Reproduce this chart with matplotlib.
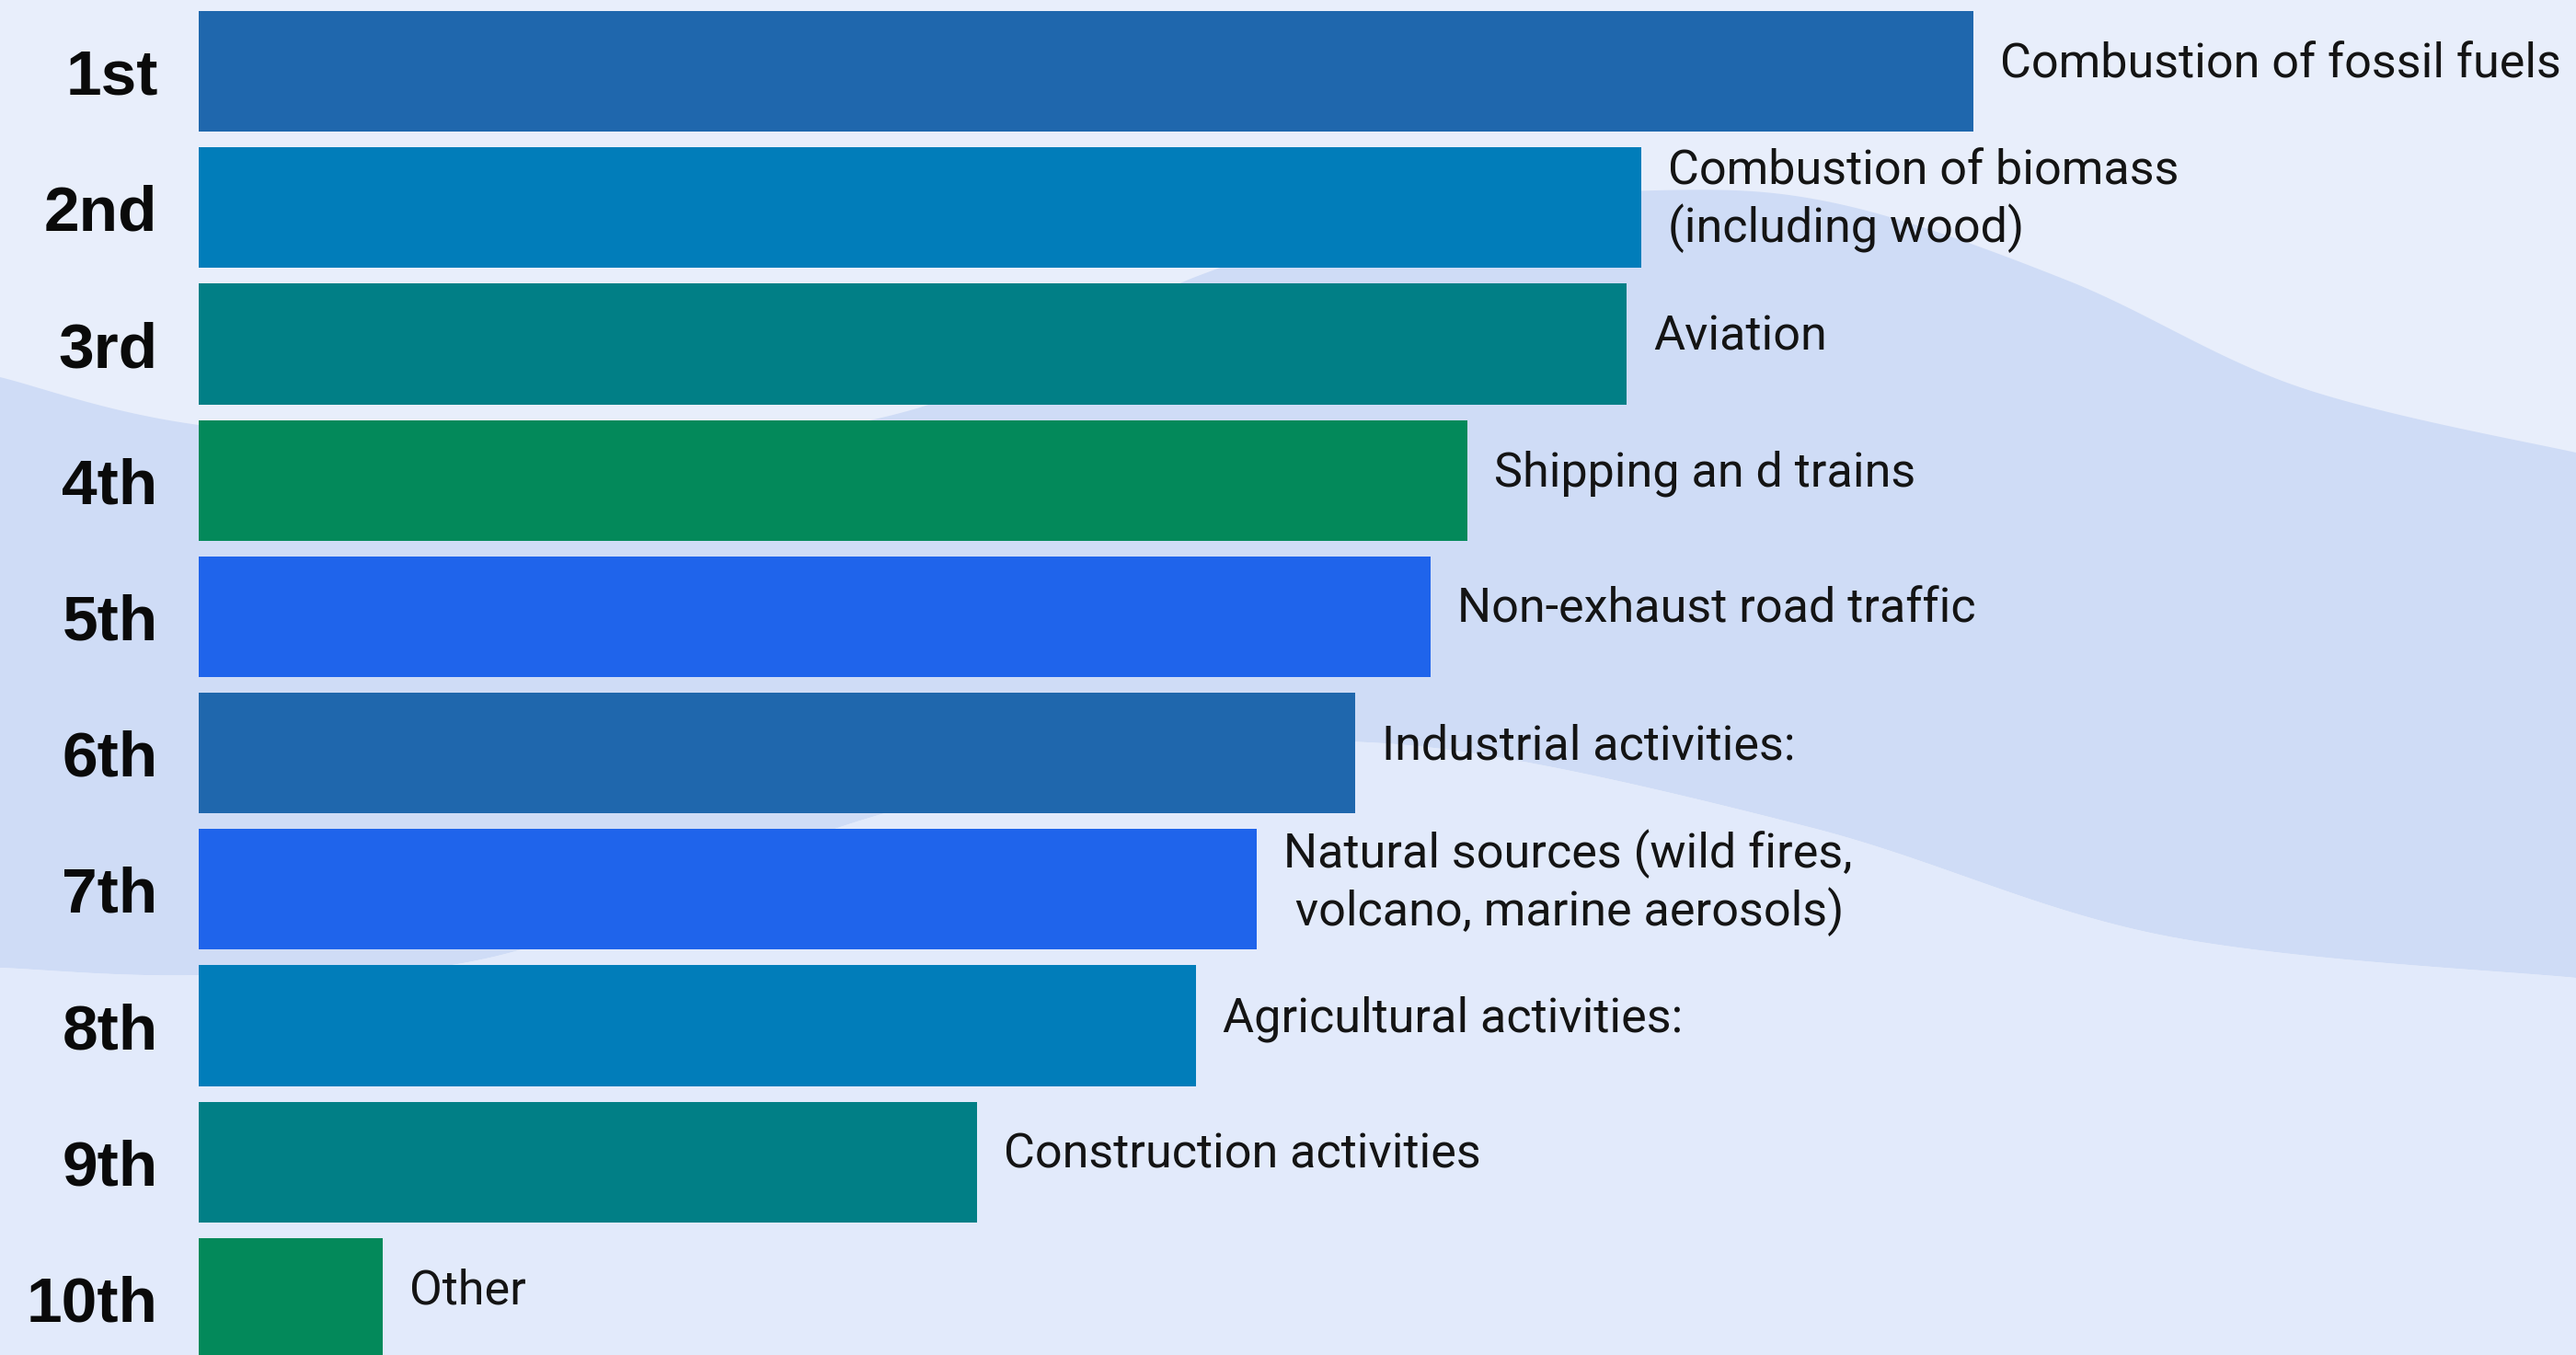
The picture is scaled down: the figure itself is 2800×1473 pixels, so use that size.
import numpy as np
import matplotlib.pyplot as plt
from matplotlib.patches import Polygon

# ranking of PM sources (bar lengths, arbitrary units)
ranks = ["1st", "2nd", "3rd", "4th", "5th", "6th", "7th", "8th", "9th", "10th"]
sources = [
    "Combustion of fossil fuels",
    "Combustion of biomass\n(including wood)",
    "Aviation",
    "Shipping an d trains",
    "Non-exhaust road traffic",
    "Industrial activities:",
    "Natural sources (wild fires,\n volcano, marine aerosols)",
    "Agricultural activities:",
    "Construction activities",
    "Other",
]
scores = [1929, 1568, 1552, 1379, 1339, 1257, 1150, 1084, 846, 200]

bar_colors = ["#1F67AD", "#017DBA", "#017F86", "#03895A", "#1F64EB",
              "#1F67AD", "#1F64EB", "#017DBA", "#017F86", "#03895A"]

W, H = 2800, 1473


def smooth(pts, n=40):
    # catmull-rom through the given points, just for the background wave
    pts = np.asarray(pts, float)
    p = np.vstack([pts[0], pts, pts[-1]])
    t = np.linspace(0, 1, n, endpoint=False)[:, None]
    out = []
    for i in range(1, len(p) - 2):
        p0, p1, p2, p3 = p[i - 1], p[i], p[i + 1], p[i + 2]
        out.append(0.5 * (2 * p1 + (p2 - p0) * t
                          + (2 * p0 - 5 * p1 + 4 * p2 - p3) * t ** 2
                          + (3 * p1 - p0 - 3 * p2 + p3) * t ** 3))
    out.append(pts[-1:])
    return np.vstack(out)


fig = plt.figure(figsize=(W / 100, H / 100), dpi=100)
fig.patch.set_facecolor("#E8EEFB")

# decorative background wave
bg = fig.add_axes([0, 0, 1, 1])
bg.set_xlim(0, W)
bg.set_ylim(H, 0)
bg.axis("off")
top_edge = smooth([(-60, 395), (0, 410), (216, 462), (600, 492), (986, 447),
                   (1302, 300), (1550, 232), (1800, 207), (2000, 222),
                   (2250, 306), (2500, 421), (2800, 492), (2860, 500)])
bot_edge = smooth([(-60, 1050), (0, 1052), (216, 1060), (537, 1040), (935, 892),
                   (1250, 822), (1550, 812), (1970, 900), (2352, 1017),
                   (2800, 1063), (2860, 1066)])
bg.add_patch(Polygon(np.vstack([top_edge, bot_edge[::-1]]),
                     closed=True, facecolor="#CFDCF6", edgecolor="none"))
bg.add_patch(Polygon(np.vstack([bot_edge, [(2860, 1600), (-60, 1600)]]),
                     closed=True, facecolor="#E2EAFB", edgecolor="none"))

# bars
ax = fig.add_axes([216 / W, 0, 1 - 216 / W, 1])
ax.patch.set_alpha(0)
y = np.arange(len(ranks))
ax.barh(y, scores, height=0.885, color=bar_colors, zorder=2)
ax.set_xlim(0, W - 216)
ax.set_ylim(9.4156, -0.5236)

for yi, val, name in zip(y, scores, sources):
    ax.annotate(name, xy=(val, yi - 0.05), xytext=(21, 0),
                textcoords="offset points", ha="left", va="center",
                fontsize=37.5, family="Roboto", color="#141414",
                linespacing=1.22)

ax.set_yticks(y)
ax.set_yticklabels(ranks, fontsize=50, fontweight="bold",
                   family="Liberation Sans", color="#0A0A0A")
ax.tick_params(axis="y", length=0, pad=32)
ax.set_xticks([])
for s in ax.spines.values():
    s.set_visible(False)

fig.savefig("out.png", dpi=100, facecolor=fig.get_facecolor())
